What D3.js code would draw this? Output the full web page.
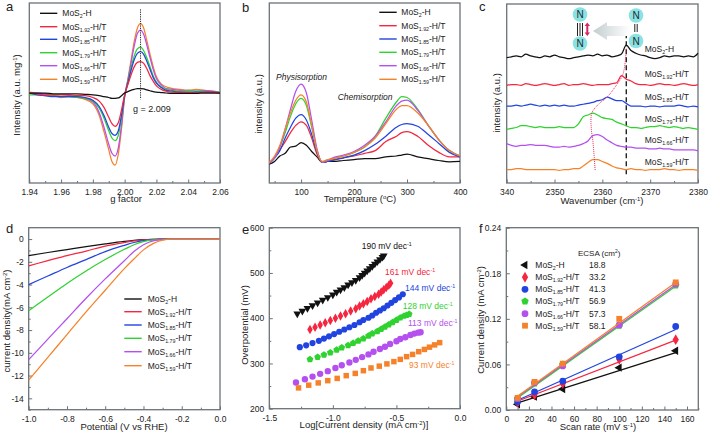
<!DOCTYPE html>
<html>
<head>
<meta charset="utf-8">
<script src="https://cdn.jsdelivr.net/npm/d3@7"></script>
<style>
  html, body { margin: 0; padding: 0; background: #fff; }
  svg { display: block; font-family: "Liberation Sans", Arial, sans-serif; fill: #222; }
  .frame { fill: none; stroke: #6b7278; stroke-width: 1.3; }
  .axis path { display: none; }
  .axis line { stroke: #6b7278; stroke-width: 1; }
  .axis text { font-size: 8.5px; fill: #222; font-family: "Liberation Sans", Arial, sans-serif; }
  .curve { fill: none; stroke-width: 1.25; stroke-linejoin: round; }
</style>
</head>
<body>
<div id="chart"></div>
<script>
// sample names, same in every panel
var sampleSubs = ['2', '1.92', '1.85', '1.79', '1.66', '1.59'];
var sampleTails = ['-H', '-H/T', '-H/T', '-H/T', '-H/T', '-H/T'];

// a: EPR
var gFactor = [1.94,1.945,1.95,1.955,1.96,1.965,1.97,1.975,1.98,1.984,1.987,1.99,1.992,1.994,1.996,1.998,2.0,2.002,2.004,2.006,2.008,2.01,2.012,2.014,2.016,2.018,2.02,2.023,2.026,2.03,2.035,2.04,2.045,2.05,2.055,2.06];
var eprBlack = [0,0,0,-.01,-.01,-.01,-.01,-.015,-.02,-.03,-.04,-.05,-.06,-.06,-.055,-.03,0,.015,.03,.04,.05,.05,.045,.035,.025,.015,.01,.005,0,-.005,-.005,-.005,-.005,0,0,0];
var eprRed = [0,-.01,-.02,-.02,-.02,-.02,-.03,-.03,-.05,-.09,-.16,-.27,-.34,-.37,-.33,-.19,-.02,.09,.2,.29,.34,.35,.33,.27,.19,.13,.08,.04,.02,.01,.01,.01,0,.01,.01,0];
var eprBlue = [0,-.02,-.03,-.04,-.04,-.04,-.04,-.05,-.08,-.15,-.25,-.38,-.45,-.47,-.42,-.25,-.03,.11,.25,.37,.44,.46,.43,.35,.26,.17,.11,.06,.03,.02,.01,.01,.01,.01,.01,0];
var eprGreen = [-.02,-.02,-.03,-.03,-.04,-.04,-.05,-.06,-.09,-.17,-.28,-.42,-.5,-.53,-.47,-.28,-.03,.12,.28,.41,.49,.51,.47,.39,.29,.19,.12,.07,.04,.03,.02,.03,.02,.02,.01,.01];
var eprPurple = [0,0,-.01,-.03,-.04,-.03,-.04,-.06,-.1,-.22,-.38,-.57,-.67,-.7,-.61,-.36,-.04,.14,.33,.52,.66,.7,.65,.53,.39,.26,.16,.09,.05,.04,.03,.03,.02,.03,.02,.01];
var eprOrange = [.01,0,-.01,-.03,-.05,-.04,-.05,-.07,-.12,-.25,-.43,-.63,-.76,-.8,-.68,-.4,-.05,.15,.36,.57,.72,.77,.72,.58,.43,.29,.18,.1,.07,.05,.04,.03,.04,.03,.02,.01];

// b: TPD
var temperature = [40,50,60,70,80,90,100,110,120,130,140,150,160,180,200,220,240,260,280,290,300,320,340,360,380,400];
var tpdBlack = [10.5,12,15,16.5,20,20.5,22.5,21,17.5,14.5,11.5,12,12,12.5,13,13.5,13.5,14.5,15,15.5,16,14.5,13.5,12.5,11.8,12];
var tpdRed = [11,14,18.5,23,28,32,34,32,25,16,11.5,12,13,14,15,16.5,18,23,26,28,28.6,26,21,17,14.5,14.5];
var tpdBlue = [11,14,18,25,31,36,38,35,27,17,11.5,12,12.5,14,15.5,18,21.5,26,31,32.5,33,31.5,27,22,17,14.5];
var tpdGreen = [11,14,20,28,37,44,47,43,31,18,11.5,12.5,13.5,15,17,20,26,36,45,48,47.5,41,32,24,18,15];
var tpdPurple = [11,14,20,30,41,51,55,50,35,19,11.5,12.5,14,15.5,17.5,21,26,34,43,45.5,46,40.5,32,24,18,15];
var tpdOrange = [11.5,15,21,30,39,46,49,45,32,18,12,13,13.5,15,17,20,25,33,41,43,43,39,32,24,18,15];

// c: IR, one value per wavenumber from 2340 to 2380
var wavenumber = [2340,2341,2342,2343,2344,2345,2346,2347,2348,2349,2350,2351,2352,2353,2354,2355,2356,2357,2358,2359,2360,2361,2362,2363,2364,2365,2366,2367,2368,2369,2370,2371,2372,2373,2374,2375,2376,2377,2378,2379,2380];
var irBlack = [70,70.5,71,70.5,72,71,70.5,70,71,70.5,71.5,70.5,70,69.5,70,70.5,71,71.5,71,72,71,71.5,70.5,71,72,77,74,72.5,71.5,71,70,69.5,70,71,70.5,71,71,70.5,71,70.5,72.5];
var irRed = [54.5,55,55,54.5,55.5,55,54.5,55,55.5,55,54.5,55,55.5,54.5,55,55,55.5,55,54.5,55,55,55,55.5,56,60,58,57,55.5,55,55,54.5,55,55.5,55,55,54.5,55,55.5,55,54.5,55];
var irBlue = [43,43,43.5,43,43.5,44,43.5,43,43.5,43,43.5,43,43.5,43,43,43.5,44,44.5,45,46,46.5,48,47,46,46,44.5,43,43,43,42.5,43,43,42.5,43,43,43,43.5,43,42.5,43,42.5];
var irGreen = [30,30.5,31,32,32,31.5,31,31.5,31,31,31,31.5,31,31,31,33,37,38,39,38,36.5,36,35.5,34,33,32,31,31,30.5,31,31.5,31.5,32,31.5,31,31.5,31,30.5,31,30.5,30];
var irPurple = [22,21,20.5,21,21,21.5,21,21,21,20.5,20,20,20.5,20,20.5,21,22,23.5,26.5,27,26,24,22.5,21,20.5,20,20,19.5,19.5,19.5,19,19,19.5,19,19,18.5,18.5,18.5,18.5,18.5,18];
var irOrange = [7.5,7.5,8,8,7.5,7.5,7.5,7.5,7.5,7.5,7.5,7,7.5,7.5,8,8,9.5,11.5,13,13,12,11,9.5,8.5,8,7.5,8,7.5,7.5,7,7.5,7.5,7.5,8,7.5,7.5,7,7.5,7.5,7.5,7];
var shiftWave = [2365,2364.7,2364.2,2362.5,2361,2359.2,2357.8,2357.7,2358,2358.5];
var shiftLevel = [75,66,60,53,48,44,39,30,24,7];

// d: polarisation
var potential = [-1,-.9,-.8,-.7,-.6,-.5,-.45,-.4,-.35,-.3,-.25,-.2,0];
var lsvBlack = [-1.45,-1.18,-.92,-.66,-.42,-.2,-.11,-.05,-.02,-.01,0,0,0];
var lsvRed = [-2.35,-1.9,-1.45,-1.05,-.62,-.3,-.16,-.07,-.03,-.01,0,0,0];
var lsvBlue = [-4,-3.25,-2.5,-1.8,-1.1,-.55,-.3,-.13,-.05,-.02,0,0,0];
var lsvGreen = [-6.3,-5.1,-3.9,-2.8,-1.8,-.9,-.5,-.22,-.08,-.02,-.01,0,0];
var lsvPurple = [-10.6,-8.8,-7,-5.2,-3.5,-1.9,-1.1,-.5,-.15,-.04,-.01,0,0];
var lsvOrange = [-12.4,-10.4,-8.4,-6.4,-4.5,-2.6,-1.75,-.95,-.4,-.1,-.01,0,0];

// e: Tafel
var tafelBlackX = [-1.28,-1.24,-1.2,-1.16,-1.12,-1.08,-1.04,-1,-.97,-.94,-.91,-.88,-.85,-.82,-.79,-.77,-.75,-.73,-.71,-.69,-.67,-.65,-.63,-.61,-.6];
var tafelBlackY = [410,416,422,428,434,440,446,452,458,463,468,474,479,484,490,495,500,505,510,515,520,525,530,535,538];
var tafelRedX = [-1.18,-1.14,-1.1,-1.06,-1.02,-.98,-.94,-.9,-.86,-.82,-.79,-.76,-.73,-.7,-.67,-.64,-.62,-.6,-.58,-.56,-.546];
var tafelRedY = [375,380,385,390,395,400,405,410,416,421,427,432,437,443,448,453,458,463,468,473,477];
var tafelBlueX = [-1.26,-1.21,-1.16,-1.11,-1.07,-1.03,-.99,-.95,-.91,-.87,-.83,-.79,-.76,-.72,-.69,-.66,-.63,-.6,-.57,-.54,-.51,-.48,-.45];
var tafelBlueY = [336,340,345,350,355,360,365,370,375,380,385,391,396,401,406,412,417,422,428,434,440,446,453];
var tafelGreenX = [-1.18,-1.12,-1.07,-1.02,-.97,-.93,-.88,-.84,-.8,-.76,-.72,-.69,-.65,-.62,-.59,-.56,-.53,-.5,-.47,-.44,-.42,-.4];
var tafelGreenY = [309,314,319,324,330,335,340,345,350,355,361,366,371,376,381,386,391,396,401,405,407,409];
var tafelPurpleX = [-1.29,-1.22,-1.16,-1.1,-1.04,-.98,-.93,-.87,-.82,-.77,-.72,-.68,-.63,-.59,-.55,-.5,-.47,-.43,-.39,-.36,-.33,-.31];
var tafelPurpleY = [258,265,271,277,283,290,296,302,308,314,320,326,332,337,343,349,354,358,363,366,368,369];
var tafelOrangeX = [-1.27,-1.19,-1.115,-1.04,-.966,-.895,-.824,-.76,-.7,-.635,-.575,-.52,-.47,-.42,-.373,-.325,-.28,-.24,-.2,-.16];
var tafelOrangeY = [246,252,257,262,267,273,278,284,290,294,299,304,309,315,320,326,331,336,341,346];
var tafelSlopes = [190, 161, 144, 128, 113, 93];

// f: ECSA
var scanRate = [10, 25, 50, 100, 150];
var ecsaBlack = [.0075,.0175,.0276,.0557,.078];
var ecsaRed = [.01,.02,.035,.0667,.0926];
var ecsaBlue = [.011,.024,.038,.07,.11];
var ecsaGreen = [.015,.035,.06,.111,.164];
var ecsaPurple = [.015,.036,.058,.112,.166];
var ecsaOrange = [.016,.037,.061,.12,.168];
var fitRate = [8, 150];
var fitBlack = [.0085,.0755];
var fitRed = [.0105,.092];
var fitBlue = [.0115,.106];
var fitGreen = [.014,.163];
var fitPurple = [.015,.165];
var fitOrange = [.016,.168];
var ecsaValues = ['18.8', '33.2', '41.3', '56.9', '57.3', '58.1'];

var colors = ['#111111', '#f5263f', '#2144e0', '#2fd22f', '#b44ff0', '#f5822a'];

var svg = d3.select('#chart').append('svg')
  .attr('width', 709)
  .attr('height', 434);

// frame + axes, returns scales
function panel(o) {
  var x = d3.scaleLinear().domain(o.xDomain).range([o.left, o.right]);
  var y = d3.scaleLinear().domain(o.yDomain).range([o.bottom, o.top]);
  var g = svg.append('g');

  function addAxis(axis, tr) {
    g.append('g').attr('class', 'axis').attr('transform', tr).call(axis);
  }
  addAxis(d3.axisBottom(x).tickValues(o.xMinor).tickSize(-2).tickFormat(''), 'translate(0,' + o.bottom + ')');
  addAxis(d3.axisBottom(x).tickValues(o.xMajor).tickSize(-3.5).tickPadding(6).tickFormat(o.xFormat), 'translate(0,' + o.bottom + ')');
  if (o.yMajor) {
    addAxis(d3.axisLeft(y).tickValues(o.yMinor).tickSize(-2).tickFormat(''), 'translate(' + o.left + ',0)');
    addAxis(d3.axisLeft(y).tickValues(o.yMajor).tickSize(-3.5).tickPadding(5).tickFormat(o.yFormat), 'translate(' + o.left + ',0)');
  }
  g.append('rect').attr('class', 'frame')
    .attr('x', o.left).attr('y', o.top)
    .attr('width', o.right - o.left).attr('height', o.bottom - o.top);

  svg.append('text').attr('x', o.letterX).attr('y', o.letterY).attr('font-size', 13).text(o.letter);
  svg.append('text').attr('x', (o.xTitleX)).attr('y', o.xTitleY)
    .attr('text-anchor', 'middle').attr('font-size', 9.5).call(richText, o.xTitle);
  svg.append('text')
    .attr('transform', 'translate(' + o.yTitleX + ',' + o.yTitleY + ') rotate(-90)')
    .attr('text-anchor', 'middle').attr('font-size', 9.5).call(richText, o.yTitle);
  return {x: x, y: y};
}

// parts: [text, 'sup'|'sub'|undefined]
function richText(sel, parts) {
  var shift = 0;
  parts.forEach(function(p) {
    var t = sel.append('tspan').text(p[0]);
    var want = p[1] === 'sup' ? -3 : p[1] === 'sub' ? 2 : 0;
    t.attr('dy', want - shift);
    if (p[1]) t.attr('font-size', '0.62em');
    shift = want;
  });
}

function sampleName(i) {
  return [['MoS'], [sampleSubs[i], 'sub'], [sampleTails[i]]];
}

function drawLines(sc, xs, list) {
  var line = d3.line()
    .x(function(d) { return sc.x(d[0]); })
    .y(function(d) { return sc.y(d[1]); })
    .curve(d3.curveMonotoneX);
  list.forEach(function(item) {
    svg.append('path').attr('class', 'curve')
      .attr('stroke', colors[item.c])
      .attr('d', line(xs.map(function(v, i) { return [v, item.v[i]]; })));
  });
}

function lineLegend(x1, x2, tx, rows) {
  rows.forEach(function(ry, i) {
    svg.append('line').attr('x1', x1).attr('x2', x2).attr('y1', ry).attr('y2', ry)
      .attr('stroke', colors[i]).attr('stroke-width', 1.4);
    svg.append('text').attr('x', tx).attr('y', ry + 3).attr('font-size', 8.5).call(richText, sampleName(i));
  });
}

// pentagon is not in d3's symbol set
var symbolPentagon = {
  draw: function(ctx, size) {
    var r = Math.sqrt(size / 2.378);
    for (var i = 0; i < 5; i++) {
      var a = -Math.PI / 2 + i * 2 * Math.PI / 5;
      if (i === 0) ctx.moveTo(r * Math.cos(a), r * Math.sin(a));
      else ctx.lineTo(r * Math.cos(a), r * Math.sin(a));
    }
    ctx.closePath();
  }
};

function marker(px, py, c, type, size, rot) {
  svg.append('path')
    .attr('d', d3.symbol().type(type).size(size)())
    .attr('transform', 'translate(' + px + ',' + py + ') rotate(' + (rot || 0) + ')')
    .attr('fill', colors[c]);
}

function fmt(n) { return function(d) { return d.toFixed(n); }; }
function plain(d) { return String(d); }

// ---------- a
var a = panel({
  left: 29.3, right: 220, top: 3, bottom: 183,
  xDomain: [1.94, 2.06], yDomain: [-1, 1],
  xMajor: [1.94,1.96,1.98,2.0,2.02,2.04,2.06], xMinor: [1.95,1.97,1.99,2.01,2.03,2.05], xFormat: fmt(2),
  letter: 'a', letterX: 6, letterY: 11,
  xTitle: [['g factor']], xTitleX: 126, xTitleY: 202,
  yTitle: [['Intensity (a.u. mg'], ['-1', 'sup'], [')']], yTitleX: 20, yTitleY: 95
});
drawLines(a, gFactor, [
  {c: 5, v: eprOrange}, {c: 4, v: eprPurple}, {c: 3, v: eprGreen},
  {c: 2, v: eprBlue}, {c: 1, v: eprRed}, {c: 0, v: eprBlack}
]);
svg.append('line')
  .attr('x1', a.x(2.01)).attr('x2', a.x(2.01)).attr('y1', a.y(.93)).attr('y2', a.y(-.07))
  .attr('stroke', '#333').attr('stroke-width', 1).attr('stroke-dasharray', '1.3,1');
svg.append('text').attr('x', 133).attr('y', 112).attr('font-size', 9).text('g = 2.009');
lineLegend(40, 57.3, 62.3, [13.3, 26.7, 39.3, 52.7, 65.7, 79.3]);

// ---------- b
var b = panel({
  left: 269.3, right: 460, top: 3, bottom: 183,
  xDomain: [40, 400], yDomain: [0, 100],
  xMajor: [100,200,300,400], xMinor: [50,150,250,350], xFormat: plain,
  letter: 'b', letterX: 242, letterY: 12,
  xTitle: [['Temperature ('], ['o', 'sup'], ['C)']], xTitleX: 360, xTitleY: 202,
  yTitle: [['intensity (a.u.)']], yTitleX: 262, yTitleY: 104
});
drawLines(b, temperature, [
  {c: 0, v: tpdBlack}, {c: 1, v: tpdRed}, {c: 2, v: tpdBlue},
  {c: 3, v: tpdGreen}, {c: 4, v: tpdPurple}, {c: 5, v: tpdOrange}
]);
svg.append('text').attr('x', 276).attr('y', 80).attr('font-size', 8.5).attr('font-style', 'italic').text('Physisorption');
svg.append('text').attr('x', 337.7).attr('y', 100).attr('font-size', 8.5).attr('font-style', 'italic').text('Chemisorption');
lineLegend(379.3, 396.7, 401.3, [12.3, 25.7, 39, 52.3, 65.7, 79.3]);

// ---------- c
var c = panel({
  left: 506.7, right: 698, top: 4, bottom: 183,
  xDomain: [2340, 2380], yDomain: [0, 100],
  xMajor: [2340,2350,2360,2370,2380], xMinor: [2345,2355,2365,2375],
  xFormat: function(d) { return d === 2340 ? '340' : String(d); },
  letter: 'c', letterX: 479, letterY: 11,
  xTitle: [['Wavenumber (cm'], ['-1', 'sup'], [')']], xTitleX: 602, xTitleY: 204,
  yTitle: [['intensity (a.u.)']], yTitleX: 500, yTitleY: 103
});
svg.append('line')
  .attr('x1', c.x(2365)).attr('x2', c.x(2365)).attr('y1', c.y(83.6)).attr('y2', c.y(3.5))
  .attr('stroke', '#111').attr('stroke-width', 1.3).attr('stroke-dasharray', '5,3');
drawLines(c, wavenumber, [
  {c: 0, v: irBlack}, {c: 1, v: irRed}, {c: 2, v: irBlue},
  {c: 3, v: irGreen}, {c: 4, v: irPurple}, {c: 5, v: irOrange}
]);
svg.append('path')
  .attr('d', d3.line().x(function(d, i) { return c.x(d); }).y(function(d, i) { return c.y(shiftLevel[i]); })
    .curve(d3.curveCatmullRom)(shiftWave))
  .attr('fill', 'none').attr('stroke', '#e8305a').attr('stroke-width', 1).attr('stroke-dasharray', '1,1');
[49, 74, 97.3, 119.3, 140, 161.7].forEach(function(ry, i) {
  svg.append('text').attr('x', 644.7).attr('y', ry + 3).attr('font-size', 8.5).call(richText, sampleName(i));
});

// N2 molecule sketch over panel c
var defs = svg.append('defs');
var grad = defs.append('linearGradient').attr('id', 'fade');
grad.append('stop').attr('offset', '0%').attr('stop-color', '#c3cdcf');
grad.append('stop').attr('offset', '100%').attr('stop-color', '#ffffff');
svg.append('path').attr('d', 'M593,31L607,22V26H630V36H607V40Z').attr('fill', 'url(#fade)');
[[580, 14.5], [580, 43.5], [636, 15.5], [636, 41]].forEach(function(p) {
  svg.append('circle').attr('cx', p[0]).attr('cy', p[1]).attr('r', 7.3).attr('fill', '#8be2e3');
  svg.append('text').attr('x', p[0]).attr('y', p[1] + 3.6).attr('text-anchor', 'middle')
    .attr('font-size', 10).attr('fill', '#1c2a30').text('N');
});
[577.5, 580, 582.5].forEach(function(lx) {
  svg.append('line').attr('x1', lx).attr('x2', lx).attr('y1', 23).attr('y2', 36).attr('stroke', '#222').attr('stroke-width', 1);
});
[634.8, 637.2].forEach(function(lx) {
  svg.append('line').attr('x1', lx).attr('x2', lx).attr('y1', 24).attr('y2', 32).attr('stroke', '#222').attr('stroke-width', 1);
});
svg.append('path').attr('d', 'M587.3,22.5L590,26H588.3V32.5H590L587.3,36L584.6,32.5H586.3V26H584.6Z').attr('fill', '#d42a66');

// ---------- d
var d = panel({
  left: 28.7, right: 220, top: 227.7, bottom: 409.7,
  xDomain: [-1, 0], yDomain: [-15, 1],
  xMajor: [-1,-.8,-.6,-.4,-.2,0], xMinor: [-.9,-.7,-.5,-.3,-.1], xFormat: fmt(1),
  yMajor: [0,-2,-4,-6,-8,-10,-12,-14], yMinor: [-1,-3,-5,-7,-9,-11,-13,-15], yFormat: plain,
  letter: 'd', letterX: 6, letterY: 233,
  xTitle: [['Potential (V vs RHE)']], xTitleX: 124, xTitleY: 430,
  yTitle: [['current density(mA cm'], ['-2', 'sup'], [')']], yTitleX: 10, yTitleY: 321
});
drawLines(d, potential, [
  {c: 0, v: lsvBlack}, {c: 1, v: lsvRed}, {c: 2, v: lsvBlue},
  {c: 3, v: lsvGreen}, {c: 4, v: lsvPurple}, {c: 5, v: lsvOrange}
]);
lineLegend(124.3, 141.7, 147.7, [299, 311.7, 325, 338.3, 351.7, 365.7]);

// ---------- e
var e = panel({
  left: 269.3, right: 460, top: 227.7, bottom: 408.7,
  xDomain: [-1.5, 0], yDomain: [200, 600],
  xMajor: [-1.5,-1,-.5,0], xMinor: [-1.25,-.75,-.25], xFormat: fmt(1),
  yMajor: [200,300,400,500,600], yMinor: [250,350,450,550], yFormat: plain,
  letter: 'e', letterX: 242, letterY: 234,
  xTitle: [['Log[Current density (mA cm'], ['-2', 'sup'], [')]']], xTitleX: 364, xTitleY: 428,
  yTitle: [['Overpotential (mV)']], yTitleX: 248, yTitleY: 325
});
var tafelSets = [
  {c: 0, xs: tafelBlackX, ys: tafelBlackY, type: d3.symbolTriangle, size: 26, rot: 180},
  {c: 1, xs: tafelRedX, ys: tafelRedY, type: d3.symbolDiamond, size: 26},
  {c: 2, xs: tafelBlueX, ys: tafelBlueY, type: d3.symbolCircle, size: 30},
  {c: 3, xs: tafelGreenX, ys: tafelGreenY, type: symbolPentagon, size: 30},
  {c: 4, xs: tafelPurpleX, ys: tafelPurpleY, type: d3.symbolCircle, size: 32},
  {c: 5, xs: tafelOrangeX, ys: tafelOrangeY, type: d3.symbolSquare, size: 30}
];
tafelSets.forEach(function(s) {
  s.xs.forEach(function(v, i) {
    marker(e.x(v), e.y(s.ys[i]), s.c, s.type, s.size, s.rot);
  });
});
[[361.7, 249], [385, 275], [405, 291], [402.7, 309], [408, 326], [409, 368]].forEach(function(p, i) {
  svg.append('text').attr('x', p[0]).attr('y', p[1]).attr('font-size', 8.5).attr('fill', colors[i])
    .call(richText, [[tafelSlopes[i] + ' mV dec'], ['-1', 'sup']]);
});

// ---------- f
var f = panel({
  left: 506.3, right: 698.3, top: 227.7, bottom: 410,
  xDomain: [0, 170], yDomain: [0, .24],
  xMajor: [0,20,40,60,80,100,120,140,160], xMinor: [10,30,50,70,90,110,130,150,170], xFormat: plain,
  yMajor: [0,.06,.12,.18,.24], yMinor: [.03,.09,.15,.21], yFormat: fmt(2),
  letter: 'f', letterX: 479, letterY: 233,
  xTitle: [['Scan rate (mV s'], ['-1', 'sup'], [')']], xTitleX: 598, xTitleY: 430,
  yTitle: [['Current density (mA cm'], ['-2', 'sup'], [')']], yTitleX: 484, yTitleY: 320
});
var ecsaSets = [
  {c: 0, v: ecsaBlack, fit: fitBlack, type: d3.symbolTriangle, size: 30, rot: -90},
  {c: 1, v: ecsaRed, fit: fitRed, type: d3.symbolDiamond, size: 34},
  {c: 2, v: ecsaBlue, fit: fitBlue, type: d3.symbolCircle, size: 36},
  {c: 3, v: ecsaGreen, fit: fitGreen, type: symbolPentagon, size: 36},
  {c: 4, v: ecsaPurple, fit: fitPurple, type: d3.symbolCircle, size: 36},
  {c: 5, v: ecsaOrange, fit: fitOrange, type: d3.symbolSquare, size: 34}
];
ecsaSets.forEach(function(s) {
  drawLines(f, fitRate, [{c: s.c, v: s.fit}]);
  s.v.forEach(function(v, i) {
    marker(f.x(scanRate[i]), f.y(v), s.c, s.type, s.size, s.rot);
  });
});
svg.append('text').attr('x', 578).attr('y', 255.5).attr('font-size', 8)
  .call(richText, [['ECSA (cm'], ['2', 'sup'], [')']]);
[265, 277.3, 289.3, 301.3, 313.7, 325.7].forEach(function(ry, i) {
  var s = ecsaSets[i];
  marker(525, ry, s.c, s.type, s.size, s.rot);
  svg.append('text').attr('x', 535.3).attr('y', ry + 3).attr('font-size', 8.5).call(richText, sampleName(i));
  svg.append('text').attr('x', 589).attr('y', ry + 3).attr('font-size', 8.5).text(ecsaValues[i]);
});
</script>
</body>
</html>
